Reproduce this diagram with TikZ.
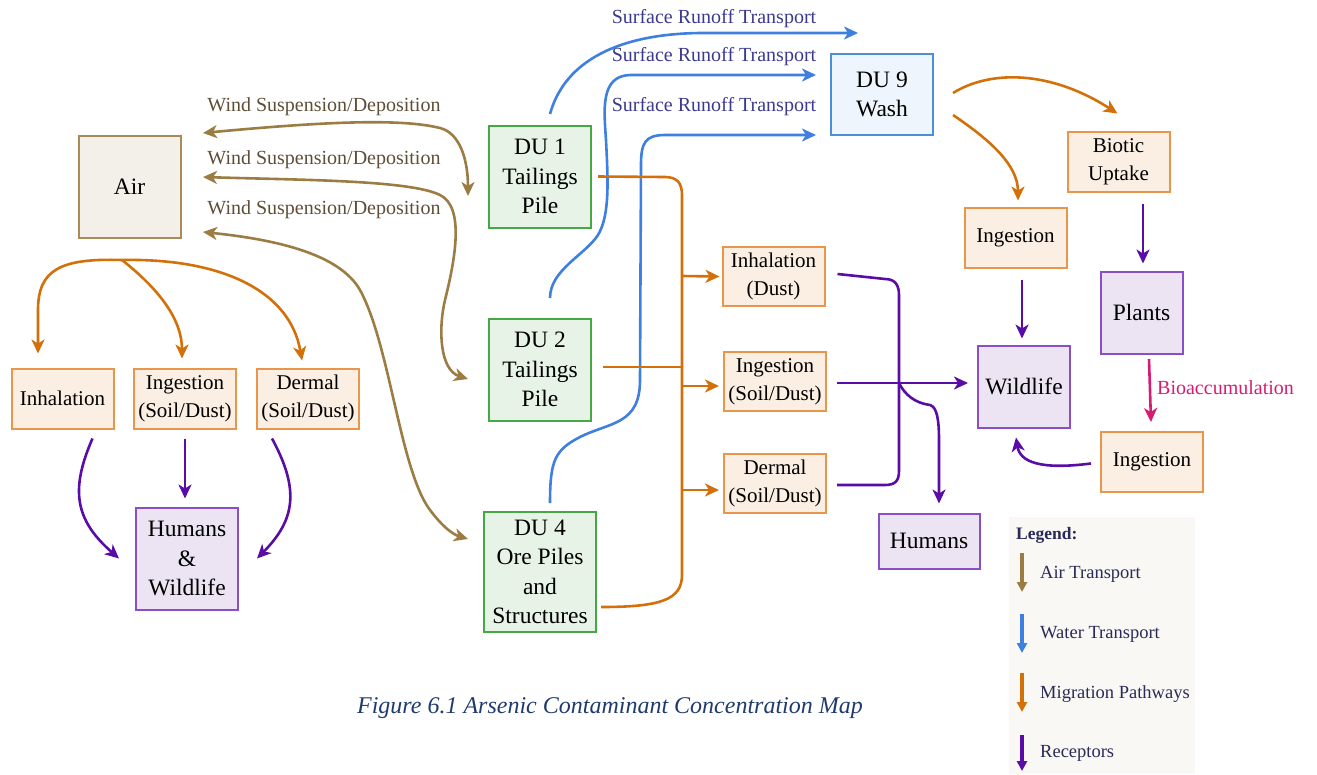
\documentclass[tikz,border=0pt]{standalone}
\usepackage{fontspec}
\setmainfont{Liberation Serif}
\usetikzlibrary{arrows.meta}
\definecolor{airc}{HTML}{9B7D44}
\definecolor{waterc}{HTML}{3E7FE0}
\definecolor{migc}{HTML}{D4700A}
\definecolor{recc}{HTML}{5A0CA6}
\definecolor{bioc}{HTML}{D81B72}
\definecolor{orline}{HTML}{E8964C}
\definecolor{orfill}{HTML}{FBEEE3}
\definecolor{puline}{HTML}{8A4FC6}
\definecolor{pufill}{HTML}{ECE4F3}
\definecolor{grline}{HTML}{45A845}
\definecolor{grfill}{HTML}{E6F3E6}
\definecolor{blline}{HTML}{4A8FD8}
\definecolor{blfill}{HTML}{EEF5FD}
\definecolor{airline}{HTML}{A88B57}
\definecolor{airfill}{HTML}{F3F0EA}
\definecolor{windtxt}{HTML}{5E4E38}
\definecolor{runtxt}{HTML}{3C3A8E}
\definecolor{legtxt}{HTML}{2A2A58}
\definecolor{legbg}{HTML}{F9F8F4}
\definecolor{captxt}{HTML}{1F3B6E}
\begin{document}
\begin{tikzpicture}[x=1pt,y=-1pt,
  box/.style={draw, line width=2pt, inner sep=0pt, align=center, text=black},
  obox/.style={box, draw=orline, fill=orfill, font=\fontsize{21}{28}\selectfont},
  pbox/.style={box, draw=puline, fill=pufill, font=\fontsize{23.5}{29.5}\selectfont},
  gbox/.style={box, draw=grline, fill=grfill, font=\fontsize{23.5}{29.5}\selectfont},
  bbox/.style={box, draw=blline, fill=blfill, font=\fontsize{23.5}{29.5}\selectfont},
  abox/.style={box, draw=airline, fill=airfill, font=\fontsize{23.5}{29.5}\selectfont},
  tip/.style={-{Stealth[length=14pt,width=13pt,inset=4pt]}},
  bothtips/.style={{Stealth[length=14pt,width=13pt,inset=4pt]}-{Stealth[length=14pt,width=13pt,inset=4pt]}},
  airarr/.style={draw=airc, line width=2.6pt},
  watarr/.style={draw=waterc, line width=2.6pt},
  migarr/.style={draw=migc, line width=2.6pt},
  recarr/.style={draw=recc, line width=2.6pt},
  windlbl/.style={text=windtxt, font=\fontsize{20}{24}\selectfont, inner sep=0pt},
  runlbl/.style={text=runtxt, font=\fontsize{20}{24}\selectfont, inner sep=0pt},
  legtext/.style={text=legtxt, font=\fontsize{18.5}{22}\selectfont, anchor=west, inner sep=0pt},
  legarr/.style={line width=3.2pt, -{Triangle[length=10pt,width=10pt]}}
]
\useasboundingbox (0,0) rectangle (1317,774);

% ---------- nodes ----------
\node[abox, minimum width=102pt, minimum height=102pt] (air) at (129.5,186.5) {Air};
\node[obox, minimum width=102pt, minimum height=60pt] (inh1) at (62.5,398.5) {Inhalation};
\node[obox, minimum width=102pt, minimum height=60pt] (ing1) at (185,398.5) {Ingestion\\(Soil/Dust)};
\node[obox, minimum width=102pt, minimum height=60pt] (der1) at (308,398.5) {Dermal\\(Soil/Dust)};
\node[pbox, minimum width=102pt, minimum height=102pt] (hw) at (187,558.5) {Humans\\\&\\Wildlife};

\node[gbox, minimum width=102pt, minimum height=102pt] (du1) at (540,176.5) {DU 1\\Tailings\\Pile};
\node[gbox, minimum width=102pt, minimum height=102pt] (du2) at (540,369.5) {DU 2\\Tailings\\Pile};
\node[gbox, minimum width=112pt, minimum height=120pt] (du4) at (540,572) {DU 4\\Ore Piles\\and\\Structures};
\node[bbox, minimum width=102pt, minimum height=81pt] (du9) at (882,94.5) {DU 9\\Wash};

\node[obox, minimum width=102pt, minimum height=59pt] (inh2) at (773.5,276.5) {Inhalation\\(Dust)};
\node[obox, minimum width=102pt, minimum height=59pt] (ing2) at (775,381.5) {Ingestion\\(Soil/Dust)};
\node[obox, minimum width=102pt, minimum height=59pt] (der2) at (775,483.5) {Dermal\\(Soil/Dust)};
\node[pbox, minimum width=101pt, minimum height=55pt] (hum) at (929,541) {Humans};

\node[pbox, minimum width=92pt, minimum height=82pt] (wild) at (1024,386.5) {Wildlife};
\node[obox, minimum width=102pt, minimum height=60pt] (ing3) at (1015.5,237.5) {Ingestion};
\node[obox, minimum width=102pt, minimum height=60pt] (bio) at (1118.5,161.5) {Biotic\\Uptake};
\node[pbox, minimum width=82pt, minimum height=82pt] (plants) at (1141.5,312.5) {Plants};
\node[obox, minimum width=102pt, minimum height=60pt] (ing4) at (1152,461.5) {Ingestion};

% ---------- labels ----------
\node[windlbl] (wl1) at (324,106.5) {Wind Suspension/Deposition};
\node[windlbl] (wl2) at (324,159.5) {Wind Suspension/Deposition};
\node[windlbl] (wl3) at (324,209.5) {Wind Suspension/Deposition};
\node[runlbl] (rl1) at (714,19) {Surface Runoff Transport};
\node[runlbl] (rl2) at (714,57) {Surface Runoff Transport};
\node[runlbl] (rl3) at (714,107) {Surface Runoff Transport};
\node[text=bioc, font=\fontsize{20}{24}\selectfont, anchor=west, inner sep=0pt] (biolbl) at (1157,388) {Bioaccumulation};

% ---------- coordinates for free ends ----------
\coordinate (w1a) at (203,133);  \coordinate (w1b) at (468,196);
\coordinate (w2a) at (203,177);  \coordinate (w2b) at (468,379);
\coordinate (w3a) at (203,232);  \coordinate (w3b) at (468,539);
\coordinate (b1a) at (550,114);  \coordinate (b1b) at (858,33);
\coordinate (b2a) at (550,298);  \coordinate (b2b) at (816,75);
\coordinate (b3a) at (550,503);  \coordinate (b3b) at (816,135);
\coordinate (tree) at (122,260);
\coordinate (bus) at (682,367);
\coordinate (jn) at (899,383);

% ---------- air transport ----------
\draw[airarr, bothtips]
  (w1a) .. controls (320,122) and (400,118) .. (440,128) .. controls (460,133) and (468,160) .. (w1b);
\draw[airarr, bothtips]
  (w2a) .. controls (300,180) and (410,180) .. (440,195) .. controls (465,207) and (455,260) .. (445,300)
  .. controls (438,330) and (440,370) .. (w2b);
\draw[airarr, bothtips]
  (w3a) .. controls (280,240) and (340,255) .. (360,290) .. controls (390,345) and (400,470) .. (430,510)
  .. controls (445,530) and (455,535) .. (w3b);

% ---------- water transport ----------
\draw[watarr, tip] (b1a) .. controls (565,60) and (620,34) .. (700,33) -- (b1b);
\draw[watarr, tip] (b2a) .. controls (550,270) and (585,255) .. (598,235) .. controls (610,215) and (608,180) .. (606,140)
  .. controls (604,110) and (600,76) .. (630,75) -- (b2b);
\draw[watarr, tip] (b3a) .. controls (550,460) and (555,450) .. (580,437) .. controls (610,422) and (640,425) .. (640,380)
  -- (641,165) .. controls (641,143) and (645,135) .. (665,135) -- (b3b);

% ---------- migration pathways ----------
\draw[migarr] ([xshift=6pt]du1.east) -- (665,177) .. controls (677,177) and (682,183) .. (682,195)
  -- (682,575) .. controls (682,600) and (660,607) .. ([xshift=4pt,yshift=-35pt]du4.east);
\draw[migarr] ([xshift=11pt,yshift=2.5pt]du2.east) -- (bus);
\draw[migarr, tip] (682,276) -- ([xshift=-2pt]inh2.west);
\draw[migarr, tip] (682,386) -- ([xshift=-4pt,yshift=-4.5pt]ing2.west);
\draw[migarr, tip] (682,490) -- ([xshift=-4pt,yshift=-6.5pt]der2.west);

\draw[migarr, tip] (tree) .. controls (60,258) and (38,270) .. (38,310) -- ([xshift=-24.5pt,yshift=14pt]inh1.north);
\draw[migarr, tip] (tree) .. controls (160,290) and (182,320) .. ([xshift=-3pt,yshift=9pt]ing1.north);
\draw[migarr, tip] (tree) .. controls (220,258) and (290,290) .. ([xshift=-6pt,yshift=7pt]der1.north);

\draw[migarr, tip] (953,93) .. controls (990,70) and (1050,70) .. ([xshift=-1pt,yshift=17pt]bio.north);
\draw[migarr, tip] (953,115) .. controls (990,140) and (1018,165) .. ([xshift=2.5pt,yshift=6pt]ing3.north);

% ---------- receptors ----------
\draw[recarr, tip] ([xshift=30pt,yshift=-9pt]inh1.south) .. controls (70,490) and (75,520) .. ([xshift=-16pt]hw.west);
\draw[recarr, tip] ([yshift=-9pt]ing1.south) -- ([xshift=-2pt,yshift=8pt]hw.north);
\draw[recarr, tip] ([xshift=-36pt,yshift=-9pt]der1.south) .. controls (300,490) and (295,520) .. ([xshift=18pt]hw.east);

\draw[recarr] ([xshift=12pt,yshift=2.5pt]inh2.east) -- (885,279) .. controls (895,279) and (899,285) .. (899,295)
  -- (899,471) .. controls (899,481) and (895,485) .. (885,485) -- ([xshift=10pt,yshift=-1.5pt]der2.east);
\draw[recarr, tip] ([xshift=10pt,yshift=-1.5pt]ing2.east) -- ([xshift=-9pt,yshift=3.5pt]wild.west);
\draw[recarr, tip] (jn) .. controls (905,395) and (915,403) .. (930,405) .. controls (937,407) and (939,420) .. (939,440)
  -- ([xshift=10pt,yshift=9pt]hum.north);

\draw[recarr, tip] ([xshift=6.5pt,yshift=-11pt]ing3.south) -- ([xshift=-2pt,yshift=6pt]wild.north);
\draw[recarr, tip] ([xshift=24.5pt,yshift=-11pt]bio.south) -- ([xshift=1.5pt,yshift=7pt]plants.north);
\draw[recarr, tip] ([xshift=-9pt,yshift=-2pt]ing4.west) .. controls (1040,470) and (1020,462) .. ([xshift=-8pt,yshift=-9pt]wild.south);

\draw[draw=bioc, line width=2.6pt, tip] ([xshift=7.5pt,yshift=-4.5pt]plants.south) -- ([xshift=-1pt,yshift=8.5pt]ing4.north);

% ---------- legend ----------
\node[fill=legbg, minimum width=186pt, minimum height=257pt, inner sep=0pt] (legend) at (1102,645.5) {};
\node[text=legtxt, font=\fontsize{17.5}{20}\selectfont\bfseries, anchor=west, inner sep=0pt] (legt) at (1016,535) {Legend:};
\coordinate (la1) at (1022,553); \coordinate (la2) at (1022,592);
\coordinate (lb1) at (1022,614); \coordinate (lb2) at (1022,653);
\coordinate (lc1) at (1022,673); \coordinate (lc2) at (1022,712);
\coordinate (ld1) at (1022,735); \coordinate (ld2) at (1022,771);
\draw[legarr, draw=airc, fill=airc] (la1) -- (la2);
\draw[legarr, draw=waterc, fill=waterc] (lb1) -- (lb2);
\draw[legarr, draw=migc, fill=migc] (lc1) -- (lc2);
\draw[legarr, draw=recc, fill=recc] (ld1) -- (ld2);
\node[legtext] (l1) at (1040,574) {Air Transport};
\node[legtext] (l2) at (1040,634) {Water Transport};
\node[legtext] (l3) at (1040,694) {Migration Pathways};
\node[legtext] (l4) at (1040,753) {Receptors};

% ---------- caption ----------
\node[text=captxt, font=\fontsize{24}{28}\selectfont\itshape, inner sep=0pt] (cap) at (610,708.5) {Figure 6.1 Arsenic Contaminant Concentration Map};
\end{tikzpicture}
\end{document}
